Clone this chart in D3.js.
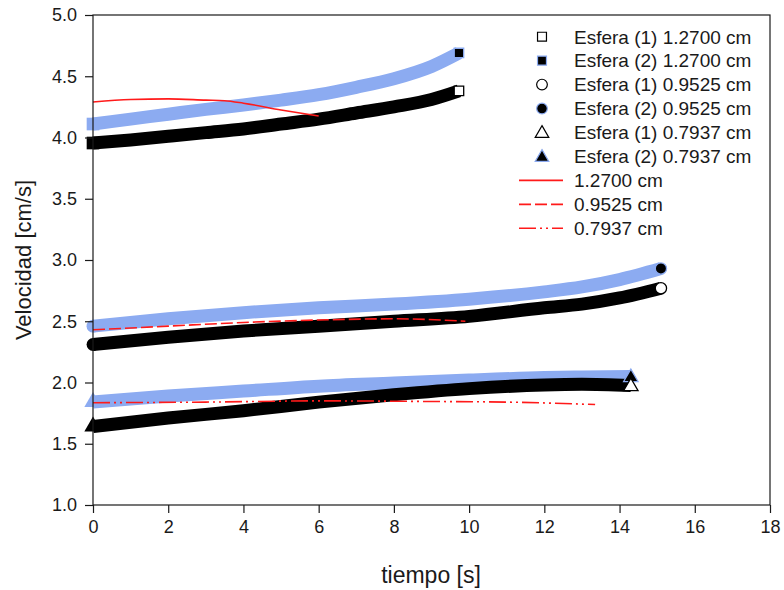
<!DOCTYPE html>
<html><head><meta charset="utf-8">
<script src="https://cdn.jsdelivr.net/npm/d3@7"></script>
<style>body{margin:0;background:#fff}svg{display:block}text{font-family:"Liberation Sans",Arial,sans-serif;fill:#1a1a1a}</style>
</head><body><svg id="c" width="784" height="590"></svg>
<script>
// ---- data ----
const xTickValues = [0, 2, 4, 6, 8, 10, 12, 14, 16, 18];
const yTickValues = [1.0, 1.5, 2.0, 2.5, 3.0, 3.5, 4.0, 4.5, 5.0];

// 1.2700 cm
const t127 = [0, 1, 2, 3, 4, 5, 6, 7, 8, 9, 9.73];
const e1_127 = [3.955, 3.98, 4.01, 4.04, 4.07, 4.11, 4.15, 4.20, 4.25, 4.31, 4.38];
const e2_127 = [4.11, 4.15, 4.19, 4.23, 4.265, 4.305, 4.35, 4.41, 4.48, 4.58, 4.69];
const tModel127 = [0, 1, 2, 3, 3.5, 4, 5, 6];
const model127 = [4.29, 4.31, 4.315, 4.305, 4.30, 4.28, 4.225, 4.175];

// 0.9525 cm
const t095 = [0, 2, 4, 6, 8, 10, 12, 13, 14, 15.1];
const e1_095 = [2.31, 2.37, 2.42, 2.46, 2.50, 2.54, 2.61, 2.64, 2.69, 2.77];
const e2_095 = [2.46, 2.52, 2.57, 2.61, 2.64, 2.68, 2.74, 2.78, 2.84, 2.93];
const tModel095 = [0, 2, 4, 6, 8, 9.9];
const model095 = [2.43, 2.46, 2.49, 2.51, 2.52, 2.50];

// 0.7937 cm
const t079 = [0, 2, 4, 6, 8, 10, 12, 13, 14.3];
const e1_079 = [1.64, 1.71, 1.77, 1.84, 1.90, 1.95, 1.98, 1.985, 1.975];
const e2_079 = [1.84, 1.89, 1.93, 1.97, 1.995, 2.02, 2.04, 2.045, 2.05];
const tModel079 = [0, 3, 6, 9, 11, 13.35];
const model079 = [1.835, 1.84, 1.85, 1.845, 1.84, 1.82];

const legendLabels = ["Esfera (1) 1.2700 cm", "Esfera (2) 1.2700 cm", "Esfera (1) 0.9525 cm",
  "Esfera (2) 0.9525 cm", "Esfera (1) 0.7937 cm", "Esfera (2) 0.7937 cm",
  "1.2700 cm", "0.9525 cm", "0.7937 cm"];

// ---- drawing ----
const BLUE = "#8cabf1", RED = "#ff1a1a", INK = "#1a1a1a";
const svg = d3.select("#c");
const L = 93, R = 770, T = 15, B = 505;
const x = d3.scaleLinear().domain([0, 18]).range([L, R]);
const y = d3.scaleLinear().domain([1, 5]).range([B, T]);

const shapes = {square: d3.symbolSquare, circle: d3.symbolCircle, triangle: d3.symbolTriangle};
const zip = (ts, vs) => ts.map((t, i) => [t, vs[i]]);
const line = d3.line().x(d => x(d[0])).y(d => y(d[1])).curve(d3.curveMonotoneX);

function band(ts, vs, color, shape) {
  const pts = zip(ts, vs);
  svg.append("path").attr("d", line(pts)).attr("fill", "none")
    .attr("stroke", color).attr("stroke-width", 13);
  svg.append("path").attr("d", d3.symbol(shapes[shape], shape === "square" ? 160 : 130)())
    .attr("transform", `translate(${x(pts[0][0])},${y(pts[0][1])})`).attr("fill", color);
  return pts;
}
function endMarker(pts, shape, fill, stroke) {
  const p = pts[pts.length - 1];
  const size = shape === "square" ? 90 : (shape === "circle" ? 100 : 90);
  svg.append("path").attr("d", d3.symbol(shapes[shape], size)())
    .attr("transform", `translate(${x(p[0])},${y(p[1]) + (shape === "triangle" ? 1 : 0)})`)
    .attr("fill", fill).attr("stroke", stroke).attr("stroke-width", 1.3);
}

const b2_127 = band(t127, e2_127, BLUE, "square");
const b1_127 = band(t127, e1_127, "#000", "square");
const b2_095 = band(t095, e2_095, BLUE, "circle");
const b1_095 = band(t095, e1_095, "#000", "circle");
const b2_079 = band(t079, e2_079, BLUE, "triangle");
const b1_079 = band(t079, e1_079, "#000", "triangle");
endMarker(b2_127, "square", "#000", BLUE);
endMarker(b1_127, "square", "#fff", "#000");
endMarker(b2_095, "circle", "#000", BLUE);
endMarker(b1_095, "circle", "#fff", "#000");
endMarker(b2_079, "triangle", "#000", BLUE);
endMarker(b1_079, "triangle", "#fff", "#000");

const dashes = {solid: null, dash: "12,4", dashdot: "17,4,2,4,2,4"};
function model(ts, vs, style) {
  svg.append("path").attr("d", line(zip(ts, vs))).attr("fill", "none")
    .attr("stroke", RED).attr("stroke-width", 1.6).attr("stroke-dasharray", dashes[style]);
}
model(tModel127, model127, "solid");
model(tModel095, model095, "dash");
model(tModel079, model079, "dashdot");

const xAxis = svg.append("g").attr("transform", `translate(0,${B})`)
  .call(d3.axisBottom(x).tickValues(xTickValues).tickSize(8).tickPadding(7).tickFormat(d3.format("d")));
const yAxis = svg.append("g").attr("transform", `translate(${L},0)`)
  .call(d3.axisLeft(y).tickValues(yTickValues).tickSize(8).tickPadding(8).tickFormat(d3.format(".1f")));
[xAxis, yAxis].forEach(g => {
  g.select(".domain").remove();
  g.selectAll("line").attr("stroke", INK).attr("stroke-width", 1.2);
  g.selectAll("text").attr("font-size", 18).attr("fill", INK)
    .style("font-family", '"Liberation Sans", Arial, sans-serif');
});
svg.append("rect").attr("x", L).attr("y", T).attr("width", R - L).attr("height", B - T)
  .attr("fill", "none").attr("stroke", INK).attr("stroke-width", 1.2);

svg.append("text").attr("x", 431).attr("y", 583).attr("text-anchor", "middle")
  .attr("font-size", 23).text("tiempo [s]");
svg.append("text").attr("transform", `translate(31,${260}) rotate(-90)`)
  .attr("text-anchor", "middle").attr("font-size", 22).text("Velocidad [cm/s]");

const legendStyles = [
  {shape: "square", fill: "#fff", stroke: "#000"}, {shape: "square", fill: "#000", stroke: BLUE},
  {shape: "circle", fill: "#fff", stroke: "#000"}, {shape: "circle", fill: "#000", stroke: BLUE},
  {shape: "triangle", fill: "#fff", stroke: "#000"}, {shape: "triangle", fill: "#000", stroke: BLUE},
  {line: "solid"}, {line: "dash"}, {line: "dashdot"}];
const lg = svg.append("g");
legendLabels.forEach((lab, i) => {
  const yy = 36.7 + i * 23.95;
  const st = legendStyles[i];
  if (st.shape) {
    lg.append("path").attr("d", d3.symbol(shapes[st.shape], st.shape === "circle" ? 90 : 80)())
      .attr("transform", `translate(542,${yy + (st.shape === "triangle" ? 1 : 0)})`)
      .attr("fill", st.fill).attr("stroke", st.stroke).attr("stroke-width", 1.2);
  } else {
    lg.append("line").attr("x1", 519).attr("x2", 563).attr("y1", yy).attr("y2", yy)
      .attr("stroke", RED).attr("stroke-width", 1.6).attr("stroke-dasharray", dashes[st.line]);
  }
  lg.append("text").attr("x", 574).attr("y", yy).attr("dy", "0.36em")
    .attr("font-size", 19).text(lab);
});
</script></body></html>
